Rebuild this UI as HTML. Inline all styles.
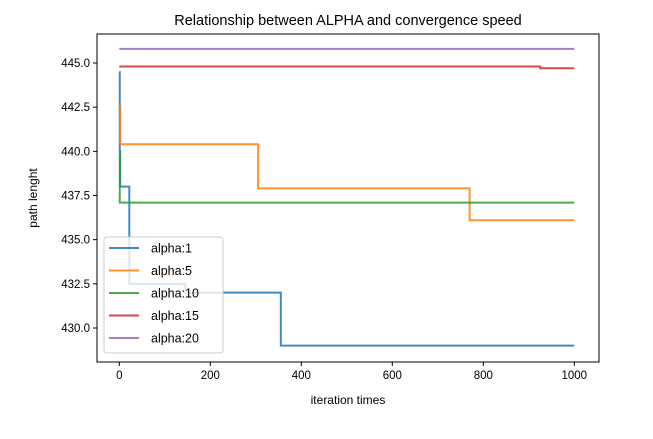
<!DOCTYPE html>
<html><head><meta charset="utf-8"><style>
body{margin:0;background:#fff;width:653px;height:434px;overflow:hidden;font-family:"Liberation Sans","DejaVu Sans",sans-serif}
</style></head><body>
<svg id="chart" width="653" height="434" xmlns="http://www.w3.org/2000/svg" font-family="Liberation Sans, DejaVu Sans, sans-serif"></svg>
<script>
const seriesNames=["alpha:1","alpha:5","alpha:10","alpha:15","alpha:20"];
const colors=["#1f77b4","#ff7f0e","#2ca02c","#d62728","#9467bd"];
const alpha1X=[0,1,2,22,145,355,1000];
const alpha1Y=[444.5,440,438,432.5,432,429,429];
const alpha5X=[0,2,305,770,1000];
const alpha5Y=[442.6,440.4,437.9,436.1,436.1];
const alpha10X=[0,1,1000];
const alpha10Y=[439.9,437.1,437.1];
const alpha15X=[0,925,1000];
const alpha15Y=[444.8,444.7,444.7];
const alpha20X=[0,1000];
const alpha20Y=[445.8,445.8];
const xTicks=[0,200,400,600,800,1000];
const yTicks=[430.0,432.5,435.0,437.5,440.0,442.5,445.0];

const NS="http://www.w3.org/2000/svg";
const svg=document.getElementById('chart');
const L=97,R=599,T=34,B=362;
const xs=v=>119.3+(v-0)*0.455;
const ys=v=>63+(445-v)*17.667;
function mk(tag,attrs,parent){const e=document.createElementNS(NS,tag);for(const k in attrs)e.setAttribute(k,attrs[k]);(parent||svg).appendChild(e);return e;}

const title=mk('text',{x:(L+R)/2,y:25,'text-anchor':'middle','font-size':'14.5',fill:'#000'});


title.textContent="Relationship between ALPHA and convergence speed";

const allX=[alpha1X,alpha5X,alpha10X,alpha15X,alpha20X];
const allY=[alpha1Y,alpha5Y,alpha10Y,alpha15Y,alpha20Y];
allX.forEach((X,i)=>{
  const Y=allY[i];
  let d=`M${xs(X[0])},${ys(Y[0])}`;
  for(let j=1;j<X.length;j++){d+=` H${xs(X[j])} V${ys(Y[j])}`;}
  const p=mk('path',{d:d,fill:'none',stroke:colors[i],'stroke-width':2,'stroke-opacity':0.85});
  
  
});

const frame=mk('rect',{x:L,y:T,width:R-L,height:B-T,fill:'none',stroke:'#000','stroke-width':1});



xTicks.forEach(v=>{
  mk('line',{x1:xs(v),x2:xs(v),y1:B,y2:B+4,stroke:'#000'});
  const t=mk('text',{x:xs(v),y:B+17,'text-anchor':'middle','font-size':'11.5',fill:'#000'});
  
  
  t.textContent=v;
});
yTicks.forEach(v=>{
  mk('line',{x1:L-4,x2:L,y1:ys(v),y2:ys(v),stroke:'#000'});
  const t=mk('text',{x:L-7,y:ys(v)+4,'text-anchor':'end','font-size':'11.5',fill:'#000'});
  
  
  t.textContent=v.toFixed(1);
});
const xl=mk('text',{x:(L+R)/2,y:404,'text-anchor':'middle','font-size':'12',fill:'#000'});


xl.textContent="iteration times";
const yl=mk('text',{x:0,y:0,'text-anchor':'middle','font-size':'12',fill:'#000',transform:`translate(37,${(T+B)/2}) rotate(-90)`});


yl.textContent="path lenght";

const lg=mk('g',{});


mk('rect',{x:104,y:237,width:119,height:116,rx:3,fill:'#fff','fill-opacity':0.8,stroke:'#ccc'},lg);
seriesNames.forEach((n,i)=>{
  const y=248+i*22.5;
  const ln=mk('line',{x1:109,x2:139,y1:y,y2:y,stroke:colors[i],'stroke-width':2,'stroke-opacity':0.85},lg);
  
  
  const t=mk('text',{x:151,y:y+4.5,'font-size':'12.5',fill:'#000'},lg);
  
  
  t.textContent=n;
});
</script>
</body></html>
